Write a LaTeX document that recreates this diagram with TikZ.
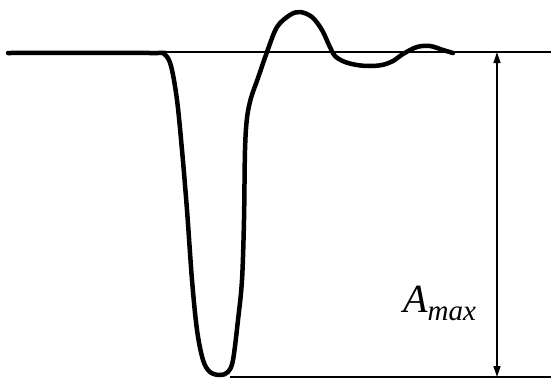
\documentclass[tikz,border=0pt]{standalone}
\usepackage{fontspec}
\setmainfont{Liberation Serif}
\usepackage{tikz}
\usetikzlibrary{positioning, arrows.meta}
\tikzset{
  wavecurve/.style = {line width=4.5pt, line join=round, line cap=round},
  refline/.style   = {line width=1.3pt},
  dimarrow/.style  = {{Triangle[length=11pt,width=7pt]}-{Triangle[length=11pt,width=7pt]}, line width=1.3pt},
  dimlabel/.style  = {font=\fontsize{40}{40}\selectfont\itshape, inner sep=0pt}
}

\begin{document}
\begin{tikzpicture}[x=1pt, y=-1pt]
\useasboundingbox (0,0) rectangle (551,381);
\coordinate (topL) at (8,52);
\coordinate (topR) at (551,52);
\coordinate (botL) at (230,377);
\coordinate (botR) at (551,377);
\coordinate (dimtop) at (497,52);
\coordinate (dimbot) at (497,377);
\node[dimlabel, anchor=base west] (amax) at (403,312) {A\raisebox{-8pt}{\fontsize{29}{29}\selectfont max}};

\draw[refline] (topL) -- (topR);
\draw[refline] (botL) -- (botR);
\draw[dimarrow] (dimtop) -- (dimbot);
\draw[wavecurve] plot[smooth, tension=0.55] coordinates {
  (8,53) (150,53) (164,54) (171,66) (177,100) (182,150) (187,210) (192,280)
  (197,330) (203,360) (210,372) (220,375) (228,372) (233,360) (238,320)
  (242,280) (244,220) (245,150) (247,118) (251,98) (258,78) (267,52)
  (277,27) (290,15) (300,12) (312,17) (322,30) (329,45) (335,56) (345,62)
  (357,65) (369,66) (382,65) (393,61) (403,54) (417,47) (430,46) (443,50)
  (453,53)};
\end{tikzpicture}
\end{document}
